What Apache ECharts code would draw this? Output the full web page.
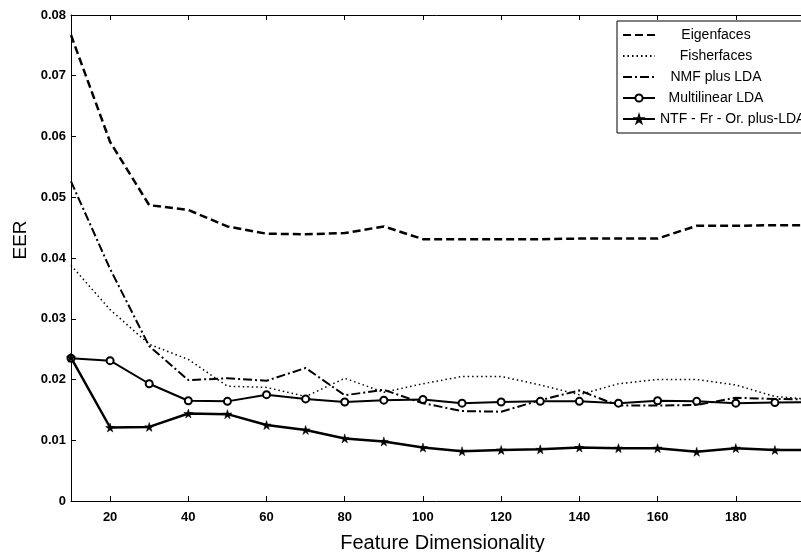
<!DOCTYPE html>
<html>
<head>
<meta charset="utf-8">
<script src="https://cdn.jsdelivr.net/npm/echarts@6/dist/echarts.min.js"></script>
<style>
  html, body { margin: 0; padding: 0; background: #fff; }
  #chart { width: 801px; height: 552px; }
</style>
</head>
<body>
<div id="chart"></div>
<script>
// feature dimensionality (x)
var dims = [10, 20, 30, 40, 50, 60, 70, 80, 90, 100, 110, 120, 130, 140, 150, 160, 170, 180, 190, 200];
var xTicks = [20, 40, 60, 80, 100, 120, 140, 160, 180];

// EER values per method
var eigenfaces = [0.0767, 0.0591, 0.0487, 0.0479, 0.0452, 0.0440, 0.0439, 0.0441, 0.0452, 0.0431,
                  0.0431, 0.0431, 0.0431, 0.0432, 0.0432, 0.0432, 0.0453, 0.0453, 0.0454, 0.0454];
var fisherfaces = [0.0388, 0.0315, 0.0258, 0.0233, 0.0189, 0.0187, 0.0172, 0.0202, 0.0179, 0.0193,
                   0.0205, 0.0205, 0.0191, 0.0175, 0.0193, 0.0200, 0.0200, 0.0191, 0.0172, 0.0167];
var nmfLda = [0.0526, 0.0382, 0.0255, 0.0199, 0.0202, 0.0198, 0.0219, 0.0174, 0.0183, 0.0161,
              0.0148, 0.0147, 0.0166, 0.0182, 0.0157, 0.0157, 0.0158, 0.0170, 0.0168, 0.0167];
var multilinearLda = [0.0235, 0.0231, 0.0193, 0.0165, 0.0164, 0.0175, 0.0168, 0.0163, 0.0166, 0.0167,
                      0.0161, 0.0163, 0.0164, 0.0164, 0.0161, 0.0165, 0.0164, 0.0161, 0.0162, 0.0163];
var ntfLda = [0.0236, 0.0121, 0.0122, 0.0144, 0.0143, 0.0125, 0.0117, 0.0103, 0.0098, 0.0088,
              0.0082, 0.0084, 0.0085, 0.0088, 0.0087, 0.0087, 0.0081, 0.0087, 0.0084, 0.0084];

var names = ['Eigenfaces', 'Fisherfaces', 'NMF plus LDA', 'Multilinear LDA', 'NTF - Fr - Or. plus-LDA'];

function pairs(vals) {
  var out = [];
  for (var i = 0; i < dims.length; i++) {
    out.push([dims[i], vals[i]]);
  }
  return out;
}

var FONT = '"Liberation Sans", Arial, sans-serif';
var star = 'path://M50,0 L61,35 L98,35 L68,57 L79,91 L50,70 L21,91 L32,57 L2,35 L39,35 Z';
// lines without markers: keep legend marker invisible
var noMark = { color: 'rgba(0,0,0,0)', borderColor: 'rgba(0,0,0,0)' };

var chart = echarts.init(document.getElementById('chart'));
chart.setOption({
  animation: false,
  backgroundColor: '#fff',
  textStyle: { fontFamily: FONT, color: '#000' },
  // plot runs past the right edge (x = 200 is cut off, like the original)
  grid: { left: 71, top: 15, bottom: 51, right: -13, outerBoundsMode: 'none', containLabel: false },
  legend: {
    orient: 'vertical',
    left: 617,
    top: 21,
    padding: [7, 6, 7, 5],
    itemGap: 7,
    itemWidth: 32,
    itemHeight: 9,
    backgroundColor: '#fff',
    borderColor: '#000',
    borderWidth: 1,
    borderRadius: 0,
    textStyle: {
      fontFamily: FONT, fontSize: 14, color: '#000',
      rich: {
        c: { fontFamily: FONT, fontSize: 14, color: '#000', width: 112, align: 'center', height: 14 },
        l: { fontFamily: FONT, fontSize: 14, color: '#000', height: 14 }
      }
    },
    formatter: function(name) {
      return name === names[4] ? '{l|' + name + '}' : '{c|' + name + '}';
    },
    data: names
  },
  xAxis: [{
    type: 'value',
    min: 10,
    max: 200,
    name: 'Feature Dimensionality',
    nameLocation: 'middle',
    nameGap: 32,
    nameTextStyle: { fontFamily: FONT, fontSize: 20, color: '#000' },
    axisLine: { lineStyle: { color: '#000', width: 1 } },
    axisTick: { inside: true, length: 5, lineStyle: { color: '#000' }, customValues: xTicks },
    axisLabel: { fontFamily: FONT, fontSize: 13, fontWeight: 'bold', color: '#000', margin: 10, customValues: xTicks },
    splitLine: { show: false }
  }, {
    type: 'value',
    position: 'top',
    min: 10,
    max: 200,
    axisLine: { onZero: false, lineStyle: { color: '#000', width: 1 } },
    axisTick: { inside: true, length: 5, lineStyle: { color: '#000' }, customValues: xTicks },
    axisLabel: { show: false },
    splitLine: { show: false }
  }],
  yAxis: {
    type: 'value',
    min: 0,
    max: 0.08,
    interval: 0.01,
    name: 'EER',
    nameLocation: 'middle',
    nameGap: 30,
    nameTextStyle: { fontFamily: FONT, fontSize: 19, color: '#000', padding: [0, 0, 0, 36] },
    axisLine: { show: true, lineStyle: { color: '#000', width: 1 } },
    axisTick: { inside: true, length: 5, lineStyle: { color: '#000' } },
    axisLabel: { fontFamily: FONT, fontSize: 13, fontWeight: 'bold', color: '#000', margin: 5 },
    splitLine: { show: false }
  },
  series: [{
    name: names[0],
    type: 'line',
    symbol: 'none',
    lineStyle: { color: '#000', width: 2.5, type: [8, 4] },
    itemStyle: noMark,
    data: pairs(eigenfaces)
  }, {
    name: names[1],
    type: 'line',
    symbol: 'none',
    lineStyle: { color: '#000', width: 1.5, type: [1.5, 3] },
    itemStyle: noMark,
    data: pairs(fisherfaces)
  }, {
    name: names[2],
    type: 'line',
    symbol: 'none',
    lineStyle: { color: '#000', width: 2, type: [9, 3, 2, 3] },
    itemStyle: noMark,
    data: pairs(nmfLda)
  }, {
    name: names[3],
    type: 'line',
    symbol: 'emptyCircle',
    symbolSize: 7,
    lineStyle: { color: '#000', width: 2 },
    itemStyle: { color: '#000', borderColor: '#000', borderWidth: 1.5 },
    data: pairs(multilinearLda)
  }, {
    name: names[4],
    type: 'line',
    symbol: star,
    symbolSize: 9,
    lineStyle: { color: '#000', width: 2.5 },
    itemStyle: { color: '#000', borderColor: '#000', borderWidth: 0.5 },
    data: pairs(ntfLda)
  }]
});
</script>
</body>
</html>
